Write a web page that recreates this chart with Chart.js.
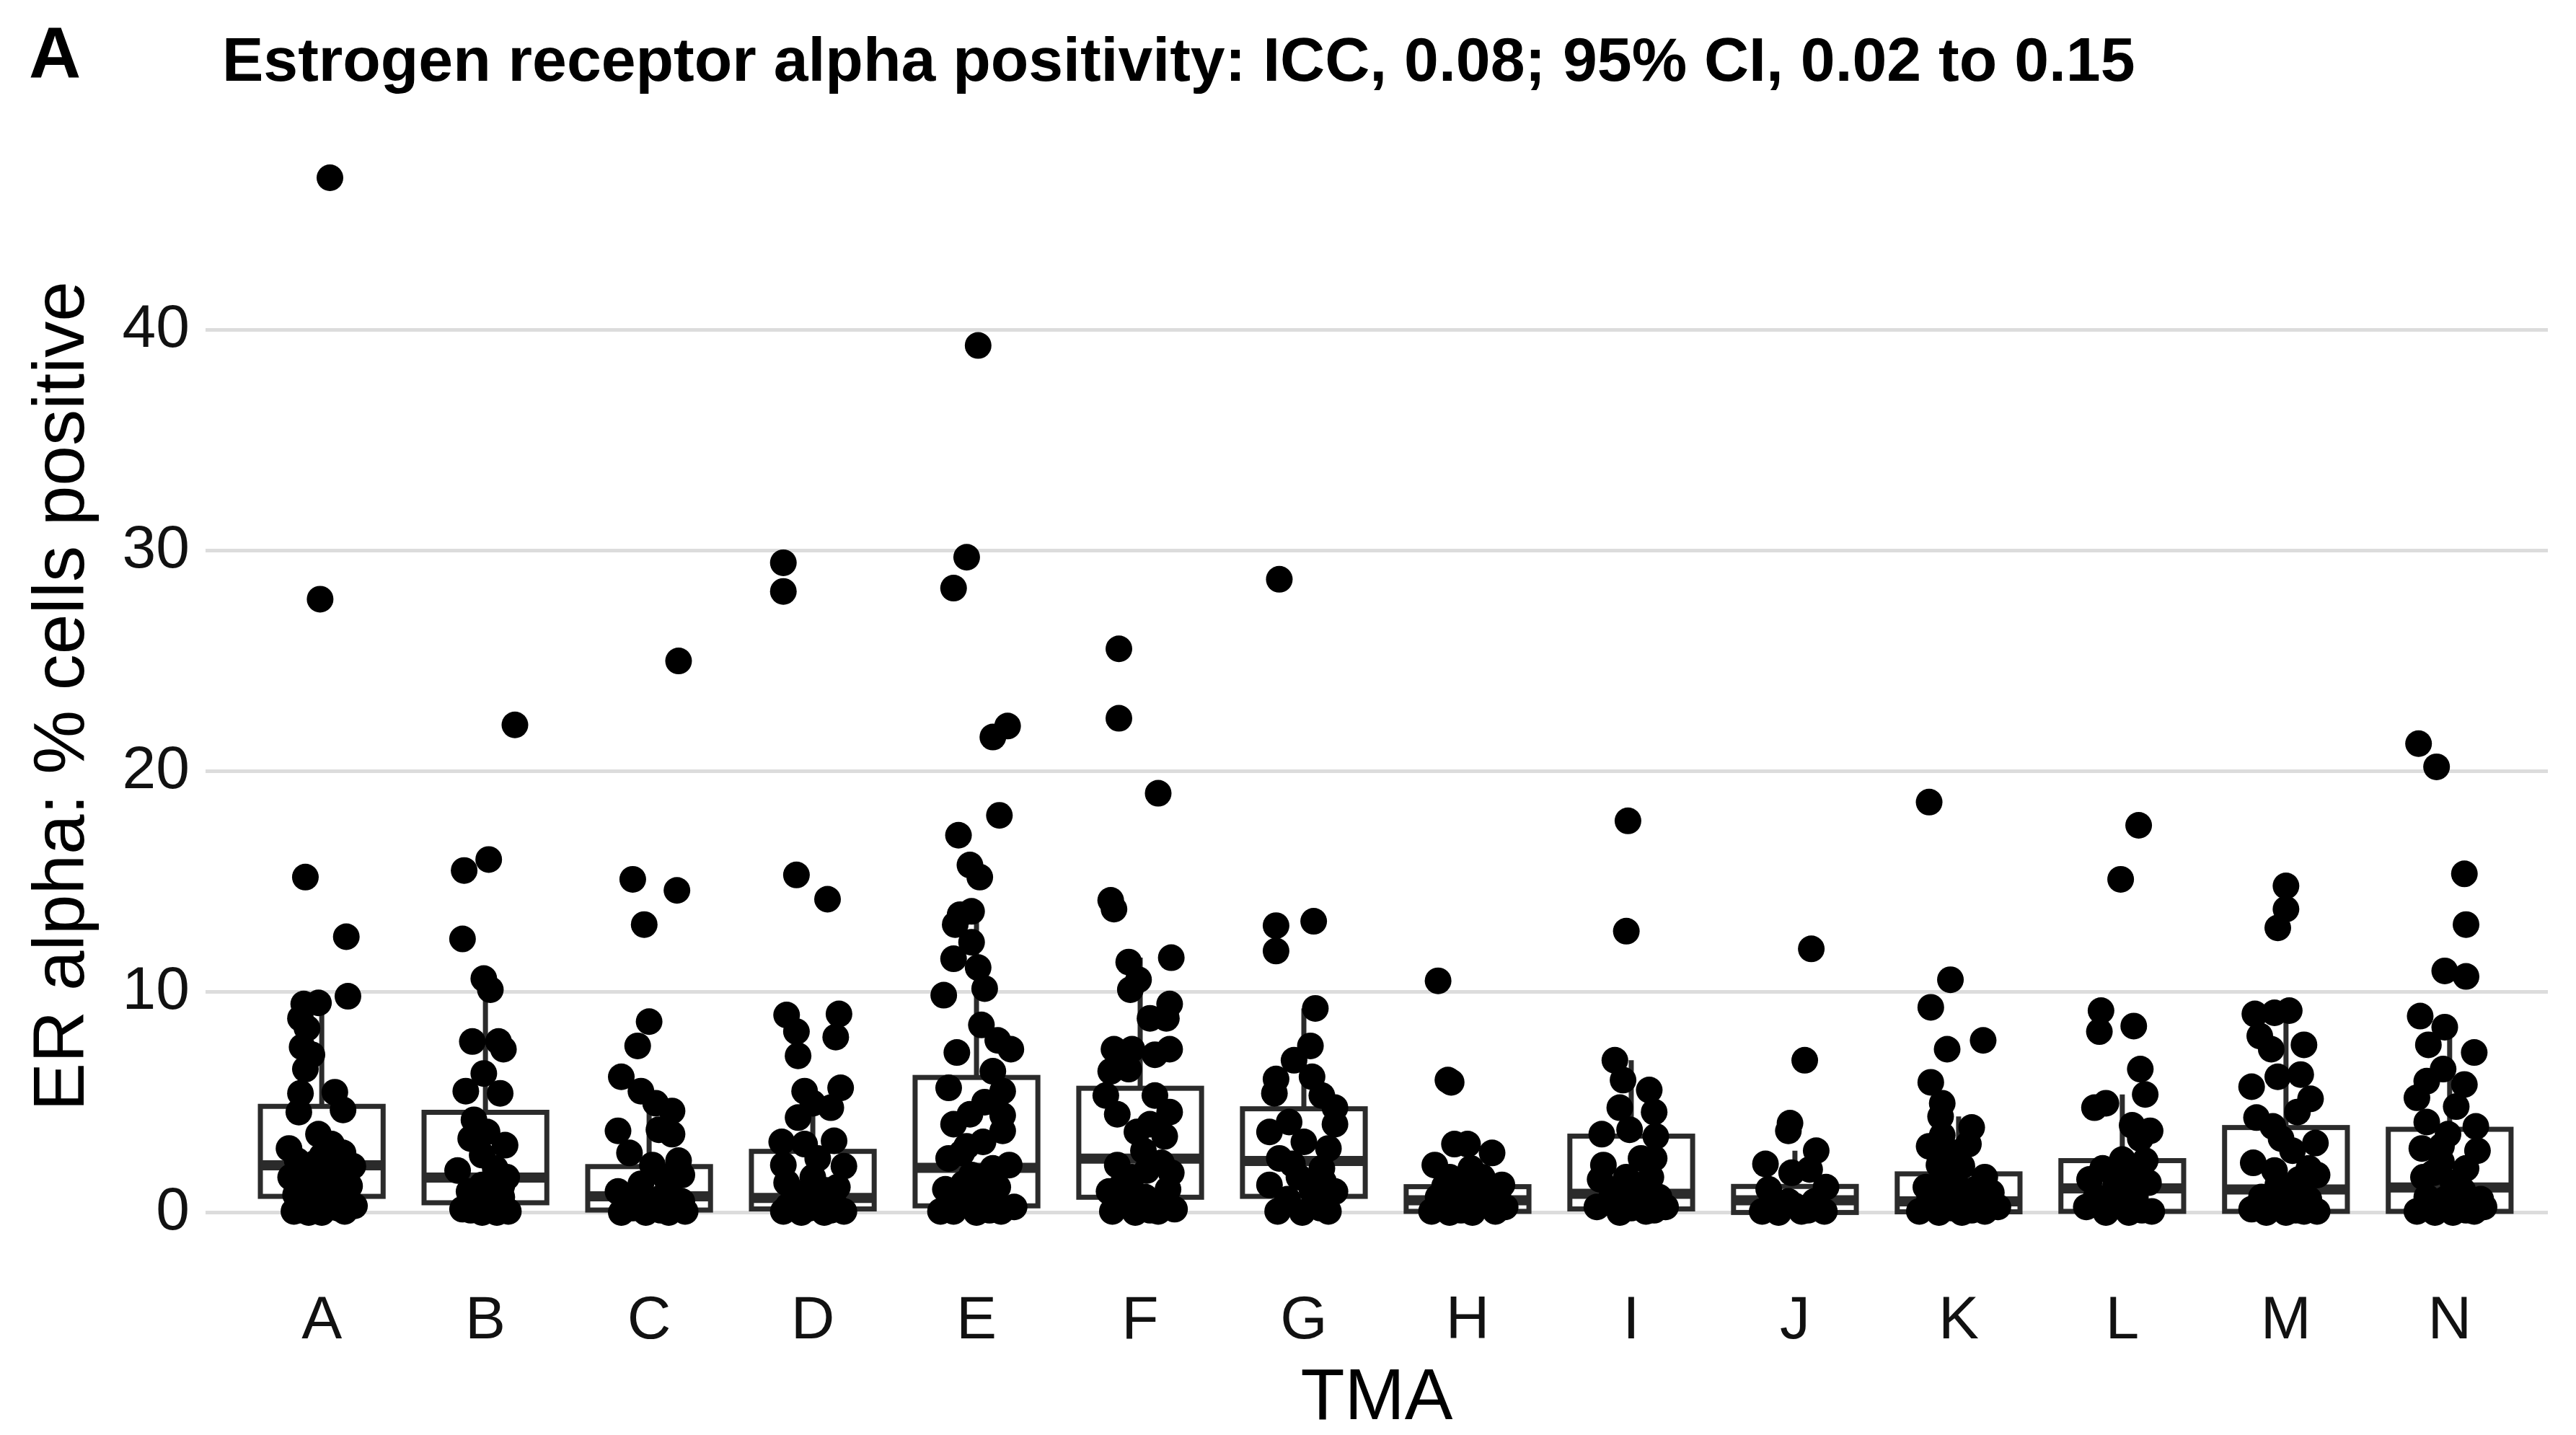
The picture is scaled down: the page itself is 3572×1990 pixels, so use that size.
<!DOCTYPE html>
<html>
<head>
<meta charset="utf-8">
<title>ER alpha positivity by TMA</title>
<script src="https://cdn.jsdelivr.net/npm/chart.js@4.4.1/dist/chart.umd.min.js"></script>
<style>
  html, body { margin: 0; padding: 0; background: #fff; }
  #wrap { position: relative; width: 3572px; height: 1990px; }
  #panel, #title {
    position: absolute;
    font-family: "Liberation Sans", Arial, sans-serif;
    font-weight: bold;
    color: #000;
    white-space: nowrap;
    line-height: 1;
  }
  #panel { left: 40px; top: 23px; font-size: 100px; }
  #title { left: 308px; top: 39px; font-size: 86px; }
</style>
</head>
<body>
<div id="wrap">
  <canvas id="erChart" width="3572" height="1990"></canvas>
  <div id="panel">A</div>
  <div id="title">Estrogen receptor alpha positivity: ICC, 0.08; 95% CI, 0.02 to 0.15</div>
</div>
<script>
// categories and axis ticks
const tmaLabels = ['A', 'B', 'C', 'D', 'E', 'F', 'G', 'H', 'I', 'J', 'K', 'L', 'M', 'N'];
const yTicks = [0, 10, 20, 30, 40];

// % cells positive per TMA, with the horizontal jitter of each point (in category units)
const erA = [46.9, 27.8, 15.2, 12.5, 9.8, 9.45, 9.5, 8.8, 8.35, 7.5, 7.15, 6.5, 5.4, 5.45, 4.65, 4.55, 3.55, 2.9, 2.7, 2.35, 2.1, 2.55, 1.8, 0.8, 0.95, 1.05, 0.05, 0, 0, 0.05, 0.25, 0.5, 1.35, 1.6, 3.1, 1.2, 0.3, 2.2, 0.1, 0.6, 1.5, 0.2];
const jitA = [0.05, -0.01, -0.10, 0.15, 0.16, -0.11, -0.02, -0.13, -0.09, -0.12, -0.06, -0.10, -0.13, 0.08, 0.13, -0.14, -0.02, -0.20, 0.13, -0.15, 0.19, 0.00, 0.05, -0.16, 0.12, -0.04, -0.17, -0.08, 0.00, 0.14, 0.05, -0.10, 0.08, -0.19, 0.06, 0.17, 0.20, -0.05, -0.12, 0.02, -0.08, 0.10];
const erB = [22.1, 16.0, 15.5, 12.4, 10.6, 10.1, 7.75, 7.75, 7.4, 6.3, 5.5, 5.4, 4.2, 3.65, 3.35, 3.05, 1.9, 2.0, 1.6, 1.25, 0.15, 0, 0, 0.05, 0.95, 0.7, 0.5, 2.6, 0.3, 1.2, 0.1];
const jitB = [0.18, 0.02, -0.13, -0.14, -0.01, 0.03, -0.08, 0.08, 0.11, -0.01, -0.12, 0.09, -0.07, 0.01, -0.09, 0.12, -0.17, 0.06, 0.13, -0.02, -0.14, -0.02, 0.07, 0.14, -0.10, 0.10, 0.03, -0.02, -0.06, 0.10, -0.09];
const erC = [25.0, 15.1, 14.6, 13.05, 8.65, 7.55, 6.15, 5.5, 4.95, 4.6, 3.7, 3.75, 3.55, 2.7, 2.35, 1.7, 2.15, 0.95, 0.6, 0.7, 0.5, 0, 0, 0, 0.05, 0.25, 1.3, 1.0, 0.2, 0.4, 0.1, 1.6];
const jitC = [0.18, -0.10, 0.17, -0.03, 0.00, -0.07, -0.17, -0.05, 0.04, 0.14, -0.19, 0.06, 0.14, -0.12, 0.18, 0.20, 0.02, -0.19, -0.08, 0.08, 0.20, -0.17, -0.02, 0.12, 0.22, 0.02, -0.05, 0.12, -0.10, -0.14, 0.07, 0.10];
const erD = [29.45, 28.15, 15.3, 14.2, 8.95, 9.0, 8.2, 7.95, 7.1, 5.5, 5.65, 4.3, 4.75, 4.95, 3.2, 3.1, 3.25, 2.15, 2.1, 2.45, 1.35, 1.15, 1.6, 0.05, 0, 0, 0.05, 0.5, 0.6, 0.4, 0.7, 1.0, 0.2, 0.1, 0.9, 0.3];
const jitD = [-0.18, -0.18, -0.10, 0.09, -0.16, 0.16, -0.10, 0.14, -0.09, -0.05, 0.17, -0.09, 0.11, 0.00, -0.19, -0.05, 0.13, -0.18, 0.19, 0.03, -0.16, 0.15, 0.00, -0.18, -0.07, 0.07, 0.19, -0.12, 0.03, 0.13, -0.05, 0.08, -0.02, 0.11, -0.11, -0.15];
const erE = [39.3, 29.7, 28.3, 22.05, 21.55, 18.0, 17.1, 15.75, 15.2, 13.65, 13.5, 13.05, 12.25, 11.5, 11.1, 10.15, 9.85, 8.5, 7.8, 7.4, 7.25, 5.65, 6.4, 5.5, 4.45, 4.0, 3.7, 3.2, 2.45, 2.15, 1.7, 1.05, 1.15, 0.05, 0, 0.05, 0.25, 0.6, 0.5, 0.05, 1.6, 2.7, 4.4, 5.0, 3.0, 0.9, 0.3, 0.1, 1.3, 2.0];
const jitE = [0.01, -0.06, -0.14, 0.19, 0.10, 0.14, -0.11, -0.04, 0.02, -0.03, -0.10, -0.13, -0.03, -0.14, 0.01, 0.05, -0.20, 0.03, 0.13, 0.21, -0.12, -0.17, 0.10, 0.16, -0.04, -0.14, 0.16, 0.04, -0.17, 0.20, -0.03, -0.19, 0.13, -0.14, 0.00, 0.15, 0.23, -0.06, 0.07, -0.22, 0.01, -0.09, 0.16, 0.05, -0.06, 0.05, -0.10, 0.08, -0.08, 0.10];
const erF = [25.55, 22.4, 19.0, 14.15, 13.75, 11.55, 11.35, 10.55, 10.1, 9.45, 8.8, 8.8, 7.4, 7.4, 7.4, 7.15, 6.4, 6.5, 5.3, 5.3, 4.55, 4.45, 3.65, 3.45, 2.15, 2.25, 1.8, 1.6, 0.95, 1.05, 0.7, 0.05, 0, 0.05, 0.15, 1.25, 2.8, 4.0, 0.4, 0.1, 0.6, 1.9];
const jitF = [-0.13, -0.13, 0.11, -0.18, -0.16, 0.19, -0.07, -0.01, -0.06, 0.18, 0.16, 0.06, -0.16, -0.05, 0.18, 0.09, -0.18, -0.07, -0.21, 0.09, 0.18, -0.14, -0.02, 0.15, -0.14, 0.13, 0.19, -0.05, -0.19, 0.17, 0.03, -0.17, -0.03, 0.11, 0.21, -0.11, 0.02, 0.06, -0.08, 0.06, -0.12, 0.04];
const erG = [28.7, 13.0, 13.2, 11.85, 9.25, 7.55, 6.9, 6.05, 6.15, 5.4, 5.3, 4.75, 4.0, 3.65, 4.1, 3.2, 2.9, 2.45, 2.0, 1.25, 1.6, 0.95, 0.05, 0, 0.05, 0.6, 0.5, 1.0, 2.2, 0.2, 1.4];
const jitG = [-0.15, -0.17, 0.06, -0.17, 0.07, 0.04, -0.06, -0.17, 0.05, -0.18, 0.11, 0.19, 0.19, -0.21, -0.09, 0.00, 0.15, -0.15, 0.11, -0.21, -0.03, 0.19, -0.16, -0.01, 0.15, -0.10, 0.07, 0.05, -0.07, 0.10, 0.12];
const erH = [10.5, 6.0, 5.9, 2.15, 3.1, 3.1, 2.7, 1.6, 1.6, 1.25, 0.05, 0, 0, 0.05, 0.25, 0.6, 0.7, 0.8, 0.5, 2.0, 1.0, 0.3, 0.1, 1.2];
const jitH = [-0.18, -0.12, -0.10, -0.20, -0.08, 0.00, 0.15, -0.11, 0.09, 0.21, -0.22, -0.11, 0.03, 0.17, 0.23, -0.01, -0.18, 0.11, -0.06, 0.02, -0.02, 0.08, -0.04, -0.14];
const erI = [17.75, 12.75, 6.9, 6.0, 5.55, 4.75, 4.55, 3.75, 3.55, 3.45, 2.45, 2.15, 2.45, 1.5, 1.6, 1.6, 0.25, 0, 0.05, 0.25, 0.7, 0.7, 0.6, 1.0, 0.2, 0.1, 1.2];
const jitI = [-0.02, -0.03, -0.10, -0.05, 0.11, -0.07, 0.14, -0.01, -0.18, 0.15, 0.06, -0.17, 0.14, -0.19, -0.03, 0.12, -0.21, -0.07, 0.09, 0.21, -0.12, 0.17, 0.04, -0.08, 0.00, 0.14, 0.05];
const erJ = [11.95, 6.9, 4.05, 3.7, 2.8, 2.2, 1.8, 1.95, 1.15, 1.05, 0.05, 0, 0.05, 0.05, 0.5, 0.5, 0.3, 0.1];
const jitJ = [0.10, 0.06, -0.03, -0.04, 0.13, -0.18, -0.02, 0.09, 0.19, -0.16, -0.20, -0.10, 0.04, 0.18, -0.04, 0.12, 0.00, 0.08];
const erK = [18.6, 10.55, 9.3, 7.4, 7.8, 5.9, 4.95, 4.35, 3.85, 3.1, 3.0, 2.7, 1.6, 1.15, 1.35, 1.05, 0.05, 0, 0, 0.05, 0.25, 0.5, 0.5, 0.4, 0.7, 2.15, 2.1, 3.5, 1.8, 0.9, 0.2, 0.1, 1.2, 2.5];
const jitK = [-0.18, -0.05, -0.17, -0.07, 0.15, -0.17, -0.10, -0.11, 0.08, 0.06, -0.18, -0.02, 0.16, -0.20, -0.02, 0.10, -0.24, -0.12, 0.02, 0.16, 0.24, -0.06, -0.18, 0.10, -0.02, -0.12, 0.02, -0.10, -0.08, 0.20, -0.04, 0.08, -0.12, -0.06];
const erL = [17.55, 15.1, 9.15, 8.2, 8.45, 6.5, 5.35, 4.75, 4.95, 3.95, 3.7, 3.35, 2.4, 2.35, 1.5, 1.35, 1.35, 0.25, 0, 0, 0.05, 0.7, 0.7, 0.5, 1.0, 2.0, 0.1, 1.8];
const jitL = [0.10, -0.01, -0.13, -0.14, 0.07, 0.11, 0.14, -0.17, -0.10, 0.06, 0.17, 0.11, 0.00, 0.14, -0.20, 0.16, -0.04, -0.22, -0.10, 0.04, 0.18, -0.16, 0.08, -0.04, 0.00, -0.12, 0.12, 0.06];
const erM = [14.8, 13.75, 12.9, 9.0, 9.05, 9.15, 8.0, 7.4, 7.6, 6.15, 6.25, 5.7, 5.15, 4.55, 4.3, 3.9, 3.35, 3.15, 2.25, 2.0, 1.9, 1.7, 0.15, 0, 0, 0.05, 0.05, 0.7, 0.8, 1.25, 0.6, 2.8, 0.3, 0.1, 1.5];
const jitM = [0.00, 0.00, -0.05, -0.19, -0.07, 0.02, -0.16, -0.09, 0.11, -0.05, 0.09, -0.21, 0.15, 0.07, -0.18, -0.08, -0.03, 0.18, -0.20, 0.14, -0.07, 0.19, -0.21, -0.12, 0.00, 0.11, 0.19, -0.15, 0.05, -0.05, 0.14, 0.04, -0.05, 0.06, 0.08];
const erN = [21.25, 20.2, 15.35, 13.05, 10.95, 10.7, 8.9, 8.4, 7.6, 7.25, 6.5, 5.95, 5.8, 5.2, 4.8, 4.1, 3.9, 3.55, 2.8, 2.9, 3.0, 2.0, 1.6, 1.35, 0.6, 0.05, 0, 0, 0.05, 0.25, 0.7, 0.6, 1.0, 2.3, 0.1, 1.8];
const jitN = [-0.19, -0.08, 0.09, 0.10, -0.03, 0.10, -0.18, -0.03, -0.13, 0.15, -0.04, -0.14, 0.09, -0.20, 0.04, -0.14, 0.16, -0.01, 0.17, -0.17, -0.05, 0.10, -0.16, 0.02, 0.19, -0.20, -0.09, 0.02, 0.15, 0.21, -0.14, -0.03, 0.08, -0.05, 0.10, -0.10];

// box plot summaries
const boxQ1 = [0.73, 0.44, 0.11, 0.16, 0.30, 0.69, 0.73, 0.05, 0.16, 0.00, 0.03, 0.05, 0.05, 0.05];
const boxMedian = [2.14, 1.58, 0.73, 0.66, 2.02, 2.44, 2.33, 0.55, 0.85, 0.55, 0.50, 1.09, 1.04, 1.13];
const boxQ3 = [4.81, 4.54, 2.08, 2.77, 6.12, 5.63, 4.70, 1.17, 3.46, 1.18, 1.75, 2.35, 3.85, 3.77];
const whiskerLow = [0, 0, 0, 0, 0, 0, 0, 0, 0, 0, 0, 0, 0, 0];
const whiskerHigh = [9.5, 10.1, 4.95, 5.65, 13.65, 11.55, 9.25, 2.8, 6.9, 2.8, 4.35, 5.35, 9.15, 7.9];

const groups = [
  [erA, jitA], [erB, jitB], [erC, jitC], [erD, jitD], [erE, jitE], [erF, jitF], [erG, jitG],
  [erH, jitH], [erI, jitI], [erJ, jitJ], [erK, jitK], [erL, jitL], [erM, jitM], [erN, jitN]
];

const points = [];
groups.forEach(([vals, jit], i) => {
  vals.forEach((v, k) => points.push({ x: i + (jit[k] || 0), y: v }));
});

const BOX_HALF = 0.375;

// boxes and whiskers go under the jittered points
const boxPlugin = {
  id: 'boxes',
  beforeDatasetsDraw(chart) {
    const { ctx, scales: { x, y } } = chart;
    ctx.save();
    ctx.strokeStyle = '#2b2b2b';
    ctx.fillStyle = '#ffffff';
    tmaLabels.forEach((t, i) => {
      const xc = x.getPixelForValue(i);
      const xl = x.getPixelForValue(i - BOX_HALF);
      const xr = x.getPixelForValue(i + BOX_HALF);
      const yTop = y.getPixelForValue(boxQ3[i]);
      const yBot = y.getPixelForValue(boxQ1[i]);

      ctx.lineWidth = 7;
      ctx.beginPath();
      ctx.moveTo(xc, yTop);
      ctx.lineTo(xc, y.getPixelForValue(whiskerHigh[i]));
      ctx.moveTo(xc, yBot);
      ctx.lineTo(xc, y.getPixelForValue(whiskerLow[i]));
      ctx.stroke();

      ctx.fillRect(xl, yTop, xr - xl, yBot - yTop);
      ctx.strokeRect(xl, yTop, xr - xl, yBot - yTop);

      const ym = y.getPixelForValue(boxMedian[i]);
      ctx.lineWidth = 14;
      ctx.beginPath();
      ctx.moveTo(xl, ym);
      ctx.lineTo(xr, ym);
      ctx.stroke();
    });
    ctx.restore();
  }
};

Chart.defaults.font.family = '"Liberation Sans", Arial, sans-serif';

new Chart(document.getElementById('erChart'), {
  type: 'scatter',
  data: {
    datasets: [{
      data: points,
      backgroundColor: '#000000',
      borderWidth: 0,
      pointRadius: 18.5,
      pointHoverRadius: 18.5
    }]
  },
  options: {
    responsive: false,
    animation: false,
    devicePixelRatio: 1,
    layout: { padding: { top: 178, right: 39, bottom: 0, left: 0 } },
    plugins: {
      legend: { display: false },
      tooltip: { enabled: false }
    },
    scales: {
      x: {
        type: 'linear',
        min: -0.71,
        max: 13.6,
        afterBuildTicks: (scale) => {
          scale.ticks = tmaLabels.map((t, i) => ({ value: i }));
        },
        afterFit: (scale) => { scale.height = 237; },
        ticks: {
          callback: (value) => tmaLabels[Math.round(value)],
          color: '#111111',
          font: { size: 84 },
          padding: 29,
          maxRotation: 0,
          autoSkip: false
        },
        grid: { display: false, drawTicks: false },
        border: { display: false },
        title: {
          display: true,
          text: 'TMA',
          color: '#000000',
          font: { size: 100, lineHeight: 1 },
          padding: 0
        }
      },
      y: {
        type: 'linear',
        min: -2.34,
        max: 49.14,
        afterBuildTicks: (scale) => {
          scale.ticks = yTicks.map(v => ({ value: v }));
        },
        afterFit: (scale) => { scale.width = 285; },
        ticks: {
          color: '#111111',
          font: { size: 84 },
          padding: 22
        },
        grid: { color: '#dcdcdc', lineWidth: 5, drawTicks: false },
        border: { display: false },
        title: {
          display: true,
          text: 'ER alpha: % cells positive',
          color: '#000000',
          font: { size: 100, lineHeight: 1 },
          padding: { top: 38, bottom: 0 }
        }
      }
    }
  },
  plugins: [boxPlugin]
});
</script>
</body>
</html>
